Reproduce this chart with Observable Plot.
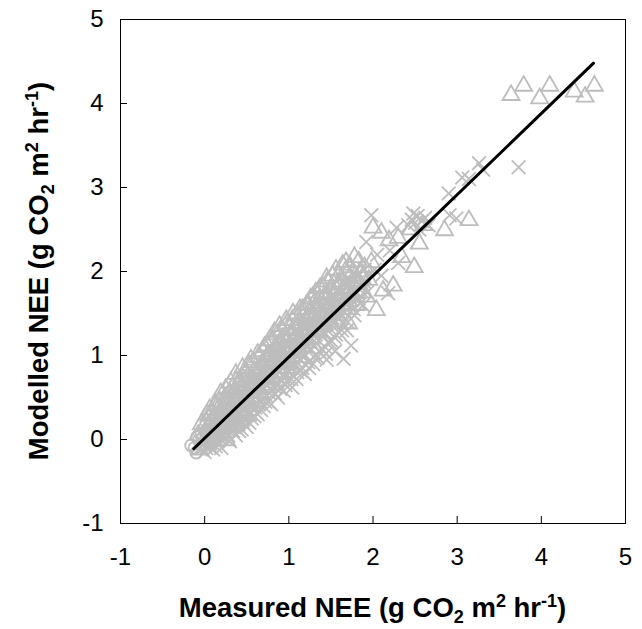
<!DOCTYPE html>
<html>
<head>
<meta charset="utf-8">
<script src="https://cdn.jsdelivr.net/npm/d3@7"></script>
<script src="https://cdn.jsdelivr.net/npm/@observablehq/plot@0.6"></script>
<style>
  html, body { margin: 0; padding: 0; background: #fff; }
</style>
</head>
<body>
<div id="chart"></div>
<script>
// Axis ticks
const xTicks = [-1, 0, 1, 2, 3, 4, 5];
const yTicks = [-1, 0, 1, 2, 3, 4, 5];

// Series: circles (near origin)
const circlePts = [
  [-0.16, -0.07], [-0.10, -0.155], [-0.07, -0.01], [-0.12, -0.10], [-0.04, 0.06],
  [-0.02, -0.08], [0.01, 0.09], [0.03, -0.03], [0.06, 0.04], [-0.09, 0.03], [0.08, -0.06]
];

// Series: triangles [measured, modelled]
const trianglePts = [
  [-0.08,0.05],[-0.06,-0.12],[-0.04,0.18],[0.00,0.08],[0.01,-0.06],[0.03,0.30],
  [0.04,0.15],[0.05,-0.02],[0.06,0.36],[0.08,0.22],[0.09,0.00],[0.10,0.12],
  [0.12,0.40],[0.13,0.05],[0.14,0.20],[0.16,0.30],[0.17,0.02],[0.18,0.45],
  [0.20,0.18],[0.21,0.35],[0.22,0.08],[0.24,0.50],[0.25,0.22],[0.26,-0.01],
  [0.28,0.40],[0.29,0.15],[0.30,0.55],[0.32,0.28],[0.33,0.62],[0.34,0.18],
  [0.36,0.48],[0.37,0.25],[0.38,0.70],[0.40,0.38],[0.41,0.58],[0.42,0.22],
  [0.44,0.75],[0.45,0.45],[0.46,0.30],[0.48,0.65],[0.49,0.80],[0.50,0.40],
  [0.52,0.55],[0.53,0.88],[0.54,0.35],[0.56,0.72],[0.57,0.50],[0.58,0.92],
  [0.60,0.62],[0.61,0.78],[0.62,0.45],[0.64,0.98],[0.65,0.70],[0.66,0.55],
  [0.68,0.85],[0.69,1.05],[0.70,0.62],[0.72,0.78],[0.73,0.95],[0.74,1.12],
  [0.76,0.65],[0.77,0.88],[0.78,1.00],[0.80,1.18],[0.81,0.75],[0.82,0.92],
  [0.84,1.08],[0.85,0.80],[0.86,1.25],[0.88,0.98],[0.89,1.15],[0.90,0.78],
  [0.92,1.30],[0.93,0.92],[0.94,1.10],[0.96,1.22],[0.97,0.85],[0.98,1.38],
  [1.00,1.05],[1.01,1.25],[1.02,0.90],[1.04,1.42],[1.05,1.15],[1.06,0.98],
  [1.08,1.30],[1.09,1.48],[1.10,1.05],[1.12,1.20],[1.13,1.38],[1.14,0.98],
  [1.16,1.55],[1.17,1.28],[1.18,1.10],[1.20,1.42],[1.21,1.60],[1.22,1.15],
  [1.24,1.32],[1.25,1.50],[1.26,1.68],[1.28,1.20],[1.29,1.45],[1.30,1.62],
  [1.32,1.75],[1.33,1.35],[1.34,1.52],[1.36,1.28],[1.37,1.68],[1.38,1.45],
  [1.40,1.82],[1.41,1.58],[1.42,1.35],[1.44,1.72],[1.45,1.50],[1.46,1.88],
  [1.48,1.62],[1.49,1.40],[1.50,1.80],[1.52,1.95],[1.53,1.55],[1.55,1.72],
  [1.56,2.02],[1.58,1.48],[1.60,1.85],[1.62,1.65],[1.64,2.08],[1.66,1.78],
  [1.68,2.11],[1.70,1.55],[1.72,1.92],[1.75,1.70],[1.78,2.17],[1.80,1.60],
  [1.82,1.88],[1.85,2.00],[1.88,1.75],[1.90,2.05],[1.92,1.70],[1.95,1.90],
  [0.02,0.20],[0.05,0.28],[0.07,0.10],[0.09,0.32],[0.11,0.25],[0.13,0.42],[0.15,0.12],[0.17,0.38],[0.19,0.55],[0.21,0.28],
  [0.23,0.42],[0.25,0.60],[0.27,0.30],[0.29,0.48],[0.31,0.68],[0.33,0.40],[0.35,0.55],[0.37,0.78],[0.39,0.50],[0.41,0.68],
  [0.43,0.42],[0.45,0.85],[0.47,0.58],[0.49,0.52],[0.51,0.75],[0.53,0.62],[0.55,0.95],[0.57,0.68],[0.59,0.82],[0.61,0.60],
  [0.63,1.02],[0.65,0.85],[0.67,0.72],[0.69,0.92],[0.71,1.10],[0.73,0.82],[0.75,1.00],[0.77,1.18],[0.79,0.90],[0.81,1.05],
  [0.83,1.28],[0.85,0.98],[0.87,1.12],[0.89,1.35],[0.91,1.02],[0.93,1.20],[0.95,1.05],[0.97,1.42],[0.99,1.18],[1.01,1.32],
  [1.03,1.08],[1.05,1.50],[1.07,1.22],[1.09,1.38],[1.11,1.15],[1.13,1.55],[1.15,1.30],[1.17,1.45],[1.19,1.22],[1.21,1.38],
  [1.23,1.60],[1.25,1.30],[1.27,1.48],[1.29,1.70],[1.31,1.40],[1.33,1.58],[1.35,1.38],[1.37,1.80],[1.39,1.52],[1.41,1.68],
  [1.43,1.45],[1.45,1.92],[1.47,1.58],[1.49,1.75],[1.51,1.50],[1.53,1.85],[1.55,1.62],[1.57,1.78],[1.59,1.95],[1.61,1.72],
  [1.63,1.88],[1.65,1.60],[1.67,2.00],[1.69,1.80],[1.71,1.65],[1.73,2.05],[1.76,1.85],[1.79,1.95],[1.83,2.12],[1.87,1.92],
  [0.10,0.08],[0.20,0.24],[0.30,0.27],[0.40,0.45],[0.50,0.48],[0.60,0.66],[0.70,0.72],[0.80,0.85],[0.90,0.92],
  [1.00,1.10],[1.10,1.12],[1.20,1.28],[1.30,1.30],[1.40,1.46],[1.50,1.52],[1.60,1.68],[1.70,1.72],[1.80,1.85],
  [1.98,2.11],[2.00,2.52],[2.10,2.46],[2.19,2.37],[2.34,2.17],[2.49,2.05],
  [2.55,2.33],[2.24,1.83],[2.12,1.77],[2.04,1.54],[1.71,1.38],[2.85,2.49],
  [3.14,2.61],[2.60,2.55],[2.45,2.50],[2.30,2.40],
  [3.64,4.10],[3.79,4.21],[3.98,4.06],[4.10,4.21],[4.39,4.14],[4.52,4.08],[4.63,4.21]
];

// Series: crosses [measured, modelled]
const crossPts = [
  [-0.05,-0.10],[-0.02,0.05],[0.00,-0.15],[0.03,0.10],[0.05,-0.08],[0.07,0.02],
  [0.09,0.18],[0.10,-0.12],[0.12,0.00],[0.14,0.12],[0.15,-0.05],[0.17,0.25],
  [0.19,0.05],[0.20,-0.10],[0.22,0.15],[0.24,0.30],[0.25,0.02],[0.27,0.12],
  [0.29,0.20],[0.30,-0.02],[0.32,0.35],[0.34,0.10],[0.35,0.25],[0.37,0.05],
  [0.39,0.42],[0.40,0.18],[0.42,0.30],[0.44,0.12],[0.45,0.50],[0.47,0.25],
  [0.49,0.38],[0.50,0.15],[0.52,0.58],[0.54,0.30],[0.55,0.45],[0.56,0.25],
  [0.58,0.65],[0.60,0.38],[0.61,0.52],[0.63,0.30],[0.65,0.72],[0.66,0.45],
  [0.68,0.58],[0.70,0.40],[0.71,0.80],[0.73,0.52],[0.75,0.65],[0.76,0.45],
  [0.78,0.88],[0.80,0.58],[0.81,0.72],[0.83,0.55],[0.85,0.95],[0.86,0.68],
  [0.88,0.82],[0.90,0.60],[0.91,1.02],[0.93,0.75],[0.95,0.90],[0.96,0.65],
  [0.98,1.10],[1.00,0.80],[1.01,0.95],[1.03,0.72],[1.05,1.18],[1.06,0.88],
  [1.08,1.02],[1.10,0.80],[1.11,1.25],[1.13,0.95],[1.15,1.10],[1.16,0.85],
  [1.18,1.32],[1.20,1.00],[1.21,1.18],[1.23,0.92],[1.25,1.40],[1.26,1.08],
  [1.28,1.25],[1.30,0.98],[1.31,1.48],[1.33,1.15],[1.35,1.32],[1.36,1.05],
  [1.38,1.55],[1.40,1.22],[1.41,1.40],[1.43,1.10],[1.45,1.62],[1.46,1.30],
  [1.48,1.48],[1.50,1.18],[1.51,1.70],[1.53,1.38],[1.55,1.55],[1.56,1.25],
  [1.58,1.78],[1.60,1.45],[1.61,1.62],[1.63,1.30],[1.65,1.85],[1.66,1.52],
  [1.68,1.70],[1.70,1.40],[1.72,1.90],[1.74,1.60],[1.76,1.78],[1.78,1.48],
  [1.80,1.95],[1.83,1.68],[1.86,1.82],[1.88,1.60],[1.90,2.02],[1.93,1.75],
  [0.00,0.02],[0.02,-0.10],[0.04,0.05],[0.06,-0.05],[0.08,0.12],[0.11,0.08],[0.13,-0.08],[0.16,0.15],[0.18,0.02],[0.21,0.20],
  [0.23,0.08],[0.26,0.22],[0.28,0.05],[0.31,0.28],[0.33,0.15],[0.36,0.32],[0.38,0.20],[0.41,0.10],[0.43,0.38],[0.46,0.20],
  [0.48,0.45],[0.51,0.30],[0.53,0.20],[0.57,0.40],[0.59,0.28],[0.62,0.58],[0.64,0.42],[0.67,0.35],[0.69,0.62],[0.72,0.45],
  [0.74,0.70],[0.77,0.55],[0.79,0.42],[0.82,0.78],[0.84,0.62],[0.87,0.50],[0.89,0.88],[0.92,0.70],[0.94,0.58],[0.97,0.95],
  [0.99,0.72],[1.02,0.85],[1.04,0.62],[1.07,0.95],[1.09,0.72],[1.12,1.08],[1.14,0.82],[1.17,1.00],[1.19,0.78],[1.22,1.10],
  [1.24,0.85],[1.27,1.15],[1.29,0.90],[1.32,1.25],[1.34,0.98],[1.37,1.30],[1.39,1.08],[1.42,1.28],[1.44,1.02],[1.47,1.40],
  [1.49,1.15],[1.52,1.45],[1.54,1.22],[1.57,1.52],[1.59,1.28],[1.62,1.55],[1.64,1.38],[1.67,1.62],[1.69,1.30],[1.73,1.68],
  [1.77,1.55],[1.81,1.75],[1.85,1.62],[1.89,1.88],
  [0.15,0.10],[0.25,0.18],[0.35,0.38],[0.45,0.38],[0.55,0.58],[0.65,0.60],[0.75,0.80],[0.85,0.78],[0.95,1.00],
  [1.05,0.98],[1.15,1.22],[1.25,1.18],[1.35,1.42],[1.45,1.38],[1.55,1.62],[1.65,1.58],[1.75,1.82],[1.85,1.78],
  [1.74,1.12],[1.65,0.96],[1.55,1.05],[1.45,0.95],[1.98,2.67],[1.92,2.35],
  [2.28,2.52],[2.42,2.55],[2.46,2.62],[2.50,2.58],[2.53,2.66],[2.58,2.60],
  [2.62,2.64],[2.66,2.55],[2.48,2.69],[2.55,2.50],[2.18,1.74],[2.90,2.93],
  [2.99,2.63],[2.91,2.67],[3.06,3.12],[3.14,3.10],[3.26,3.29],[3.31,3.21],
  [3.73,3.24],[2.02,2.02],[2.10,1.95],[2.30,2.10],[2.20,2.25],[2.05,2.20]
];

// Regression line endpoints
const fitX = [-0.13, 4.62];
const fitY = [-0.11, 4.48];
const fitLine = fitX.map((x, i) => ({x, y: fitY[i]}));

const gray = "#bdbdbd";
const font = "'Liberation Sans', Arial, sans-serif";

const chart = Plot.plot({
  width: 642,
  height: 629,
  marginLeft: 120,
  marginRight: 17,
  marginTop: 19,
  marginBottom: 106,
  style: {fontFamily: font, background: "#fff", color: "#000"},
  x: {domain: [-1, 5]},
  y: {domain: [-1, 5]},
  marks: [
    Plot.dot(circlePts, {x: d => d[0], y: d => d[1], symbol: "circle", r: 6, stroke: gray, strokeWidth: 1.8, fill: "none"}),
    Plot.dot(trianglePts, {x: d => d[0], y: d => d[1], symbol: "triangle", r: 6.3, stroke: gray, strokeWidth: 1.8, fill: "none"}),
    Plot.dot(crossPts, {x: d => d[0], y: d => d[1], symbol: "times", r: 6.3, stroke: gray, strokeWidth: 1.8, fill: "none"}),
    Plot.line(fitLine, {x: "x", y: "y", stroke: "#000", strokeWidth: 3}),
    Plot.frame({stroke: "#000", strokeWidth: 1}),
    Plot.axisX({ticks: xTicks, tickSize: -7, tickPadding: 31, tickFormat: d => String(d), label: null, fontSize: 24, stroke: "#000"}),
    Plot.axisY({ticks: yTicks, tickSize: -7, tickPadding: 24, tickFormat: d => String(d), label: null, fontSize: 24, stroke: "#000"})
  ]
});

document.getElementById("chart").appendChild(chart);

// Axis titles with sub/superscripts
const svg = d3.select(chart);
const xs = chart.scale("x").range;
const ys = chart.scale("y").range;
const xMid = (xs[0] + xs[1]) / 2;
const yMid = (ys[0] + ys[1]) / 2;

function addTitle(g) {
  g.attr("font-family", font).attr("font-weight", "bold").attr("font-size", 27.5).attr("fill", "#000").attr("text-anchor", "middle");
}
function fill(t, name) {
  t.append("tspan").text(name + " NEE (g CO");
  t.append("tspan").attr("font-size", 18).attr("dy", 6).text("2");
  t.append("tspan").attr("dy", -6).text(" m");
  t.append("tspan").attr("font-size", 18).attr("dy", -10).text("2");
  t.append("tspan").attr("dy", 10).text(" hr");
  t.append("tspan").attr("font-size", 18).attr("dy", -10).text("-1");
  t.append("tspan").attr("dy", 10).text(")");
}
const tx = svg.append("text").attr("x", xMid).attr("y", 617);
addTitle(tx); fill(tx, "Measured");
const ty = svg.append("text").attr("transform", `translate(48,${yMid}) rotate(-90)`);
addTitle(ty); fill(ty, "Modelled");
</script>
</body>
</html>
